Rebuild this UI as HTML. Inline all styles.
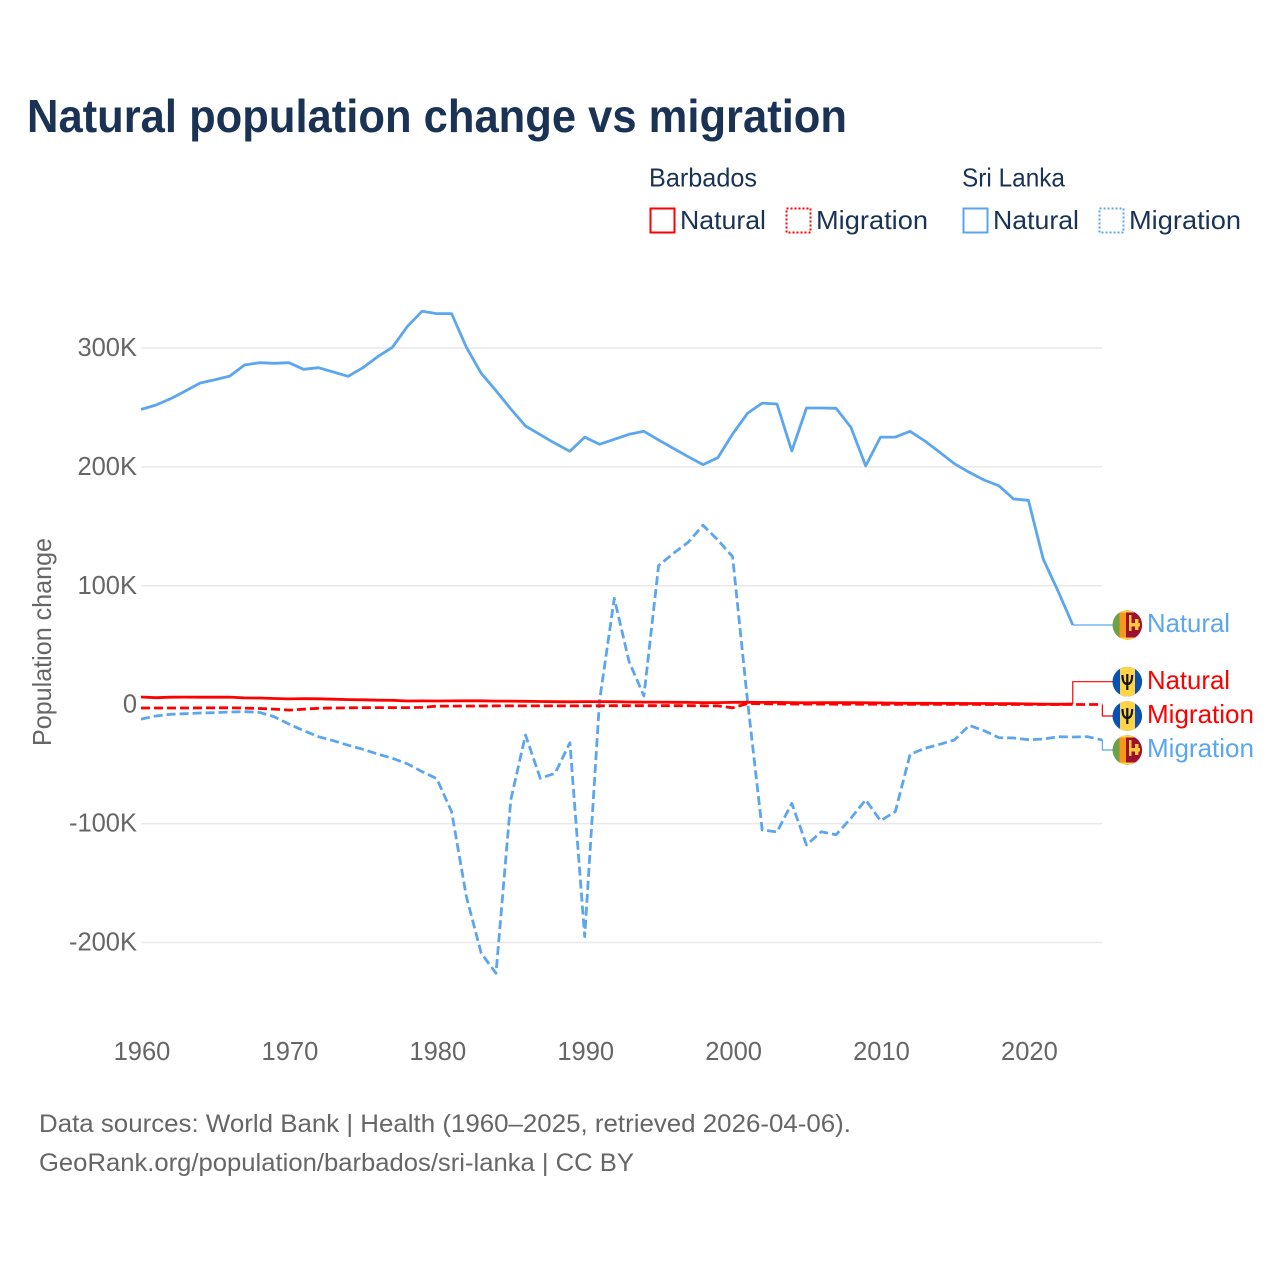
<!DOCTYPE html>
<html lang="en">
<head>
<meta charset="utf-8">
<title>Natural population change vs migration</title>
<style>
html,body{margin:0;padding:0;background:#fff;}
svg{display:block;font-family:"Liberation Sans",sans-serif;}
</style>
</head>
<body>
<svg id="chart" xmlns="http://www.w3.org/2000/svg" width="1280" height="1280" viewBox="0 0 1280 1280">
  <defs>
    <clipPath id="flag-clip-1"><circle cx="1127.3" cy="625" r="14.8"/></clipPath>
    <clipPath id="flag-clip-2"><circle cx="1127.3" cy="681.7" r="14.8"/></clipPath>
    <clipPath id="flag-clip-3"><circle cx="1127.3" cy="716" r="14.8"/></clipPath>
    <clipPath id="flag-clip-4"><circle cx="1127.3" cy="750" r="14.8"/></clipPath>
  </defs>

  <text x="27" y="132" font-size="46" font-weight="700" fill="#1a3354" textLength="820" lengthAdjust="spacingAndGlyphs">Natural population change vs migration</text>

  <g font-size="26" fill="#1a3354">
    <text x="649" y="186.500" textLength="108" lengthAdjust="spacingAndGlyphs">Barbados</text>
    <text x="962" y="186.500" textLength="103" lengthAdjust="spacingAndGlyphs">Sri Lanka</text>
    <rect x="650.5" y="208.5" width="24" height="24" fill="none" stroke="#ff0000" stroke-width="2"/>
    <text x="680" y="229" textLength="86" lengthAdjust="spacingAndGlyphs">Natural</text>
    <rect x="786.5" y="208.5" width="24" height="24" fill="none" stroke="#ff0000" stroke-width="2" stroke-dasharray="2 2"/>
    <text x="816" y="229" textLength="112" lengthAdjust="spacingAndGlyphs">Migration</text>
    <rect x="963.5" y="208.5" width="24" height="24" fill="none" stroke="#5ba6ee" stroke-width="2"/>
    <text x="993" y="229" textLength="86" lengthAdjust="spacingAndGlyphs">Natural</text>
    <rect x="1099.5" y="208.5" width="24" height="24" fill="none" stroke="#5ba6ee" stroke-width="2" stroke-dasharray="2 2"/>
    <text x="1129" y="229" textLength="112" lengthAdjust="spacingAndGlyphs">Migration</text>
  </g>

  <g id="grid"></g>
  <g id="yticks" font-size="25.5" fill="#666666" text-anchor="end"></g>
  <g id="xticks" font-size="25.5" fill="#666666" text-anchor="middle"></g>
  <text transform="translate(51,642) rotate(-90)" font-size="26" fill="#666666" text-anchor="middle" textLength="208" lengthAdjust="spacingAndGlyphs">Population change</text>

  <g id="series"></g>

  <g clip-path="url(#flag-clip-1)">
    <rect x="1112" y="610" width="8" height="30" fill="#6ea047"/><rect x="1119.500" y="610" width="7" height="30" fill="#f7981d"/>
    <rect x="1126" y="610" width="17" height="30" fill="#9e1030"/><rect x="1112" y="610" width="31" height="2.500" fill="#ffd24a"/><rect x="1112" y="637.500" width="31" height="2.500" fill="#ffd24a"/>
    <rect x="1129" y="615" width="2.500" height="16" fill="#ffc83d"/><rect x="1129" y="623" width="11" height="3.500" fill="#ffc83d"/><rect x="1135" y="619" width="3.500" height="11" fill="#ffc83d"/>
  </g>
  <g clip-path="url(#flag-clip-2)">
    <rect x="1112" y="666" width="31" height="32" fill="#0a51b0"/><rect x="1120" y="666" width="15" height="32" fill="#ffd447"/>
    <path d="M1127.3 674v16M1122.500 675c0 7 1.800 9 4.800 9s4.800-2 4.800-9" fill="none" stroke="#111" stroke-width="2.200"/>
  </g>
  <g clip-path="url(#flag-clip-3)">
    <rect x="1112" y="701" width="31" height="30" fill="#0a51b0"/><rect x="1120" y="701" width="15" height="30" fill="#ffd447"/>
    <path d="M1127.300 708v16M1122.500 709c0 7 1.800 9 4.800 9s4.800-2 4.800-9" fill="none" stroke="#111" stroke-width="2.200"/>
  </g>
  <g clip-path="url(#flag-clip-4)">
    <rect x="1112" y="735" width="8" height="30" fill="#6ea047"/><rect x="1119.500" y="735" width="7" height="30" fill="#f7981d"/>
    <rect x="1126" y="735" width="17" height="30" fill="#9e1030"/><rect x="1112" y="735" width="31" height="2.500" fill="#ffd24a"/><rect x="1112" y="762.500" width="31" height="2.500" fill="#ffd24a"/>
    <rect x="1129" y="740" width="2.500" height="16" fill="#ffc83d"/><rect x="1129" y="748" width="11" height="3.500" fill="#ffc83d"/><rect x="1135" y="744" width="3.500" height="11" fill="#ffc83d"/>
  </g>

  <g font-size="26">
    <text x="1147" y="632" fill="#5ba6ee" textLength="83" lengthAdjust="spacingAndGlyphs">Natural</text>
    <text x="1147" y="689" fill="#ff0000" textLength="83" lengthAdjust="spacingAndGlyphs">Natural</text>
    <text x="1147" y="723" fill="#ff0000" textLength="107" lengthAdjust="spacingAndGlyphs">Migration</text>
    <text x="1147" y="757" fill="#5ba6ee" textLength="107" lengthAdjust="spacingAndGlyphs">Migration</text>
  </g>

  <g font-size="25" fill="#666666">
    <text x="39" y="1132" textLength="812" lengthAdjust="spacingAndGlyphs">Data sources: World Bank | Health (1960–2025, retrieved 2026-04-06).</text>
    <text x="39" y="1171" textLength="595" lengthAdjust="spacingAndGlyphs">GeoRank.org/population/barbados/sri-lanka | CC BY</text>
  </g>
</svg>

<script>
const startYear = 1960;
const xTickYears = [1960, 1970, 1980, 1990, 2000, 2010, 2020];
const yTickValues = [300, 200, 100, 0, -100, -200];
const yTickLabels = ["300K", "200K", "100K", "0", "-100K", "-200K"];

const sriLankaNatural = [248.4,252,257.4,263.8,270.6,273.3,276.4,285.7,287.6,287.1,287.6,282.1,283.4,279.8,276.2,283.4,292.7,300.6,317.9,330.9,328.9,328.9,300.6,278.7,264.1,248.7,234.4,227.1,219.8,213.1,225.1,219,223.2,227.4,229.9,222.6,215.6,208.6,201.9,207.7,227.7,245,253.7,252.9,213.4,249.5,249.5,249.3,233.3,200.8,225.1,225.1,229.9,221.8,212.3,202.7,195.5,189,184.2,173,171.9,122.5,95.6,67];
const sriLankaMigration = [-12.1,-9.5,-8.1,-7.6,-7,-6.7,-6.1,-5.9,-6.4,-10.1,-16.2,-21.9,-26.9,-30.3,-34.1,-37.5,-41.5,-45.1,-49.6,-56.3,-62.2,-90,-161.5,-209,-225.9,-80,-25.5,-61.9,-57.7,-32,-195,3,89.5,36.2,7.3,117,127.3,136.6,151,138.5,124.5,4,-105.4,-107,-83,-118,-106.8,-109.3,-95.5,-80,-97.6,-90,-41.7,-36.7,-33.3,-29.7,-17.4,-21.9,-27.7,-28,-29.4,-28.9,-26.9,-27.2,-26.9,-29.7];
const barbadosNatural = [6.5,5.9,6.3,6.4,6.3,6.3,6.4,5.7,5.6,5.2,4.9,5.1,5,4.6,4.3,4.1,3.8,3.7,3.1,3.2,3.1,3.2,3.3,3.3,3,3,2.9,2.7,2.5,2.4,2.6,2.6,2.5,2.3,2.2,2.2,2,1.9,1.8,1.8,1.9,2,1.9,1.9,1.8,1.6,1.7,1.7,1.7,1.6,1.5,1.3,1.2,1.2,1.1,1.1,1,1,0.9,0.8,0.7,0.5,0.3,0.6];
const barbadosMigration = [-2.8,-2.8,-2.8,-2.8,-2.7,-2.6,-2.6,-2.9,-3.2,-3.7,-4.5,-3.8,-3,-2.8,-2.6,-2.5,-2.4,-2.4,-2.4,-2.3,-1.2,-1.2,-1.2,-1.1,-1,-1,-1,-1,-1,-1,-1,-0.9,-0.8,-0.8,-0.8,-0.8,-0.8,-0.8,-0.9,-1,-2.6,0.9,0.8,0.7,0.6,0.5,0.5,0.4,0.4,0.4,0.3,0.3,0.3,0.3,0.3,0.3,0.3,0.2,0.2,0.2,0.2,0.2,0.2,0.2,0.2,0.2];

const SVG_NS = "http://www.w3.org/2000/svg";
function xScale(year) { return 141 + (year - 1960) * 14.79; }
function yScale(value) { return 704.7 - value * 1.189; }

function pointsFor(values) {
  return values.map(function (v, i) {
    return xScale(startYear + i).toFixed(1) + "," + yScale(v).toFixed(1);
  }).join(" ");
}

function addPolyline(parent, pts, color, width, dash) {
  const el = document.createElementNS(SVG_NS, "polyline");
  el.setAttribute("points", pts);
  el.setAttribute("fill", "none");
  el.setAttribute("stroke", color);
  el.setAttribute("stroke-width", width);
  el.setAttribute("stroke-linejoin", "round");
  if (dash) el.setAttribute("stroke-dasharray", dash);
  parent.appendChild(el);
  return el;
}

const gridGroup = document.getElementById("grid");
const yGroup = document.getElementById("yticks");
const xGroup = document.getElementById("xticks");
const seriesGroup = document.getElementById("series");

yTickValues.forEach(function (v, i) {
  if (v !== 0) {
    const line = document.createElementNS(SVG_NS, "line");
    
    
    line.setAttribute("x1", xScale(1960));
    line.setAttribute("x2", xScale(2025));
    line.setAttribute("y1", yScale(v));
    line.setAttribute("y2", yScale(v));
    line.setAttribute("stroke", "#e9e9e9");
    line.setAttribute("stroke-width", "1.5");
    gridGroup.appendChild(line);
  }
  const label = document.createElementNS(SVG_NS, "text");
  
  
  label.setAttribute("x", "137");
  label.setAttribute("y", yScale(v) + 8);
  label.textContent = yTickLabels[i];
  yGroup.appendChild(label);
});

xTickYears.forEach(function (year) {
  const label = document.createElementNS(SVG_NS, "text");
  
  
  label.setAttribute("x", xScale(year) + 1);
  label.setAttribute("y", "1060");
  label.textContent = year;
  xGroup.appendChild(label);
});

function lastX(values) { return xScale(startYear + values.length - 1); }
function lastY(values) { return yScale(values[values.length - 1]); }

function drawSeries(values, color, dash, name, labelY) {
  const line = addPolyline(seriesGroup, pointsFor(values), color, "2.8", dash);
  
  
  const x = lastX(values), y = lastY(values);
  const connector = addPolyline(seriesGroup, x + "," + y + " " + x + "," + labelY + " 1113," + labelY, color, "1.2", null);
  
  
}

drawSeries(sriLankaNatural, "#5ba6ee", null, "line-sri-lanka-natural", 625);
drawSeries(sriLankaMigration, "#5ba6ee", "9 4", "line-sri-lanka-migration", 750);
drawSeries(barbadosNatural, "#ff0000", null, "line-barbados-natural", 681.7);
drawSeries(barbadosMigration, "#ff0000", "9 4", "line-barbados-migration", 716);
</script>
</body>
</html>
